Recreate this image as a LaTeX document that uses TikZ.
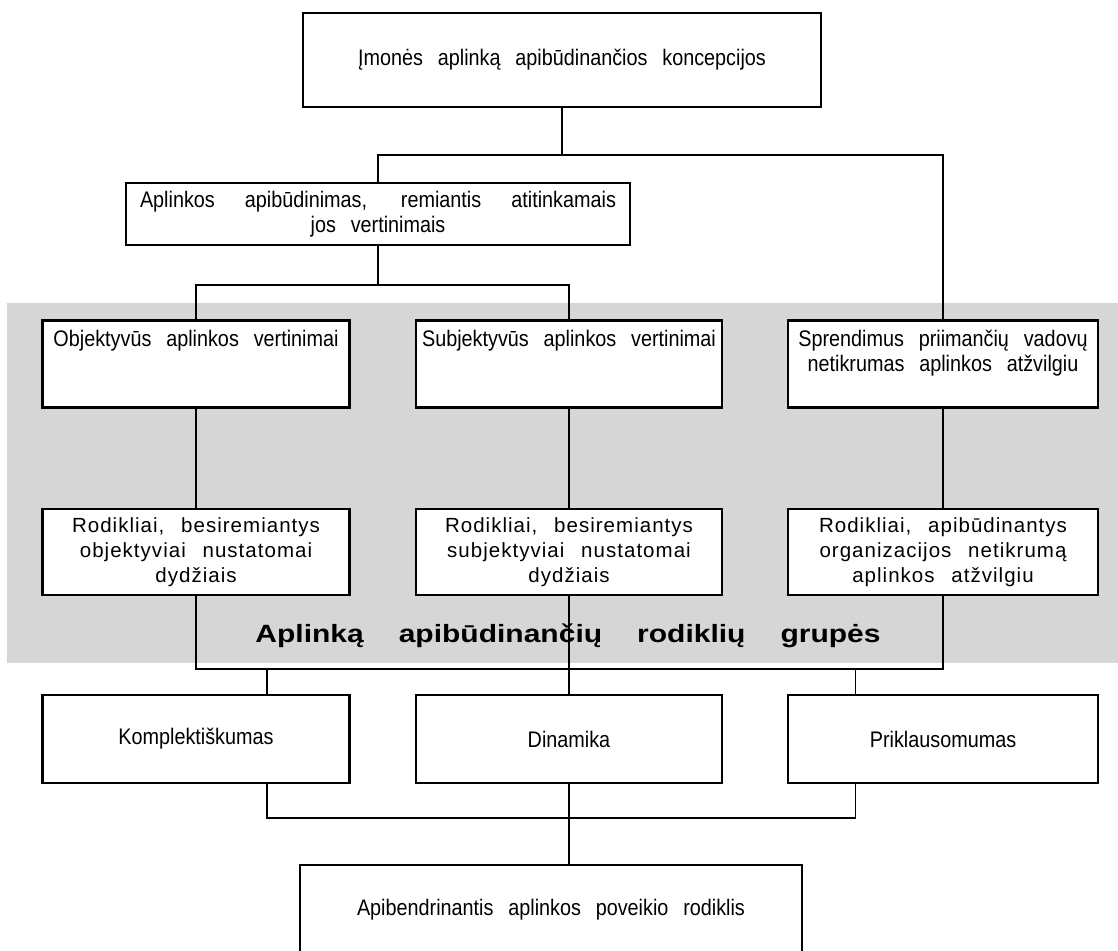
\documentclass[tikz,border=0pt]{standalone}
\usepackage{fontspec}
\setmainfont{Liberation Sans}[FakeStretch=0.88,WordSpace=2.7]
\newfontfamily\rodfont{Liberation Sans}[WordSpace=2.5,LetterSpace=5]
\newfontfamily\titlefont{Liberation Sans}[FakeStretch=1.2,WordSpace=4.2]
\usetikzlibrary{positioning, calc}

\begin{document}
\begin{tikzpicture}[x=1pt,y=1pt,node distance=188pt,
 box node/.style={rectangle,draw,fill=white,line width=2.2pt,align=center,
  font=\fontsize{22.5}{25}\selectfont},
 top node/.style={box node,text height=16pt,text depth=51pt,inner ysep=10pt},
 rod node/.style={box node,font=\rodfont\fontsize{20.5}{25}\selectfont},
 link/.style={line width=1.4pt}]
  \useasboundingbox (0,0) rectangle (1118,-950);
  % grey band behind the indicator groups
  \fill[black!16] (7,-303) rectangle (1118,-663);

  \node[box node, minimum width=518pt, minimum height=94pt] (1) at (562,-60) {Įmonės aplinką apibūdinančios koncepcijos};
  \node[box node, minimum width=504pt, minimum height=62pt] (2) at (378,-214) {\makebox[476pt][s]{Aplinkos apibūdinimas, remiantis atitinkamais}\\ jos vertinimais};

  \node[top node, minimum width=307pt, minimum height=87pt] (3) at (196,-364) {Objektyvūs aplinkos vertinimai};
  \node[top node, minimum width=306pt, minimum height=87pt, node distance=373pt] (4) [right of=3] {Subjektyvūs aplinkos vertinimai};
  \node[top node, text height=41pt, text depth=26pt, minimum width=310pt, minimum height=87pt, node distance=374pt] (5) [right of=4] {Sprendimus priimančių vadovų\\ netikrumas aplinkos atžvilgiu};

  \node[rod node, minimum width=307pt, minimum height=86pt] (6) [below of=3] {Rodikliai, besiremiantys\\ objektyviai nustatomai\\ dydžiais};
  \node[rod node, minimum width=306pt, minimum height=86pt] (7) [below of=4] {Rodikliai, besiremiantys\\ subjektyviai nustatomai\\ dydžiais};
  \node[rod node, minimum width=310pt, minimum height=86pt] (8) [below of=5] {Rodikliai, apibūdinantys\\ organizacijos netikrumą\\ aplinkos atžvilgiu};

  \node[box node, minimum width=307pt, minimum height=88pt, node distance=187pt] (9) [below of=6] {Komplektiškumas};
  \node[box node, minimum width=306pt, minimum height=88pt, node distance=187pt] (10) [below of=7] {Dinamika};
  \node[box node, minimum width=310pt, minimum height=88pt, node distance=187pt] (11) [below of=8] {Priklausomumas};

  \node[box node, minimum width=502pt, minimum height=90pt] (12) at (551,-910) {Apibendrinantis aplinkos poveikio rodiklis};

  \node[font=\titlefont\bfseries\fontsize{25}{30}\selectfont] (13) at (568,-636) {Aplinką apibūdinančių rodiklių grupės};

  \coordinate (b1) at (0,-155);
  \coordinate (b2) at (0,-285);
  \coordinate (b3) at (0,-669);
  \coordinate (b4) at (0,-818);
  \coordinate (k1) at ($(9.north west)!.73!(9.north east)$);
  \coordinate (k2) at ($(11.north west)!.22!(11.north east)$);
  \coordinate (k3) at ($(9.south west)!.73!(9.south east)$);
  \coordinate (k4) at ($(11.south west)!.22!(11.south east)$);

  \draw[link] (1.south) -- (1.south |- b1);
  \draw[link] (2.north) |- (1.south |- b1) -| (5.north);
  \draw[link] (2.south) -- (2.south |- b2);
  \draw[link] (3.north) |- (2.south |- b2) -| (4.north);
  \foreach \s/\t in {3/6, 4/7, 5/8} {
   \path[draw,link] (\s) edge (\t);}
  \draw[link] (6.south) |- (7.south |- b3) -| (8.south);
  \draw[link] (7.south) -- (10.north);
  \draw[link] (k1) -- (k1 |- b3);
  \draw[link] (k2) -- (k2 |- b3);
  \draw[link] (k3) |- (k4 |- b4) -- (k4);
  \draw[link] (10.south) -- (10.south |- 12.north);
\end{tikzpicture}
\end{document}
